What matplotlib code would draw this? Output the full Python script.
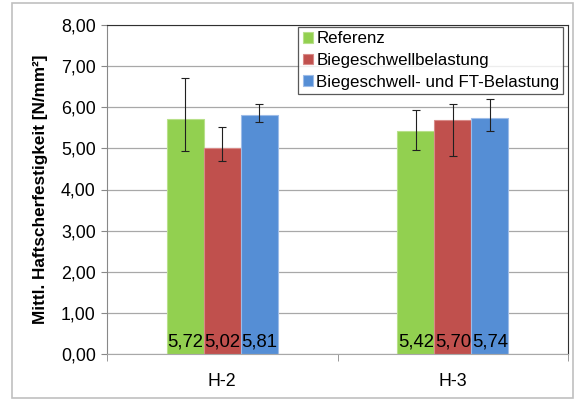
import numpy as np
import matplotlib
matplotlib.use("Agg")
import matplotlib.pyplot as plt
from matplotlib.patches import Rectangle
from matplotlib.ticker import FixedLocator, FuncFormatter

plt.rcParams["font.family"] = ["Liberation Sans", "DejaVu Sans"]

# Daten
categories = ["H-2", "H-3"]
series = ["Referenz", "Biegeschwellbelastung", "Biegeschwell- und FT-Belastung"]
means = [
    [5.72, 5.42],
    [5.02, 5.70],
    [5.81, 5.74],
]
err_max = [
    [6.72, 5.93],
    [5.53, 6.09],
    [6.09, 6.21],
]
err_min = [
    [4.94, 4.96],
    [4.70, 4.81],
    [5.64, 5.42],
]
labels = [
    ["5,72", "5,42"],
    ["5,02", "5,70"],
    ["5,81", "5,74"],
]
colors = ["#92D050", "#C0504D", "#558ED5"]
edges = ["#B8E08A", "#D88A88", "#9DBCE8"]

fig = plt.figure(figsize=(5.75, 4), dpi=100)
fig.patches.append(Rectangle((0.02, 0.006), 0.976, 0.986, transform=fig.transFigure,
                             fill=False, edgecolor="#C0C0C0", linewidth=1.2))
ax = fig.add_axes([0.186, 0.115, 0.802, 0.8225])

x = np.arange(len(categories))
w = 0.16
for i in range(len(series)):
    pos = x + (i - 1) * w
    m = np.array(means[i])
    lo = m - np.array(err_min[i])
    hi = np.array(err_max[i]) - m
    ax.bar(pos, m, w, color=colors[i], edgecolor=edges[i], linewidth=0.8,
           label=series[i], zorder=2)
    ax.errorbar(pos, m, yerr=[lo, hi], fmt="none", ecolor="#202020",
                elinewidth=0.8, capsize=3, capthick=0.8, zorder=3)
    for p, t in zip(pos, labels[i]):
        ax.text(p, 0.08, t, ha="center", va="bottom", fontsize=13.3,
                color="black", zorder=4)

ax.set_xlim(-0.5, 1.5)
ax.set_ylim(0, 8)
ax.set_yticks(np.arange(0, 9, 1))
ax.yaxis.set_major_formatter(FuncFormatter(lambda v, _: f"{v:.2f}".replace(".", ",")))
ax.set_xticks(x)
ax.set_xticklabels(categories)
ax.xaxis.set_minor_locator(FixedLocator([-0.5, 0.5, 1.5]))
ax.tick_params(axis="x", which="major", length=0, pad=14, labelsize=12.8)
ax.tick_params(axis="x", which="minor", length=5, color="#888888", direction="out")
ax.tick_params(axis="y", length=4, color="#888888", labelsize=12.8, pad=4)

ax.grid(axis="y", color="#A8A8A8", linewidth=0.9, zorder=0)
ax.set_axisbelow(True)
ax.spines["left"].set_color("#888888")
ax.spines["bottom"].set_color("#A8A8A8")
ax.spines["top"].set_color("#303030")
ax.spines["right"].set_color("#303030")

ax.set_ylabel("Mittl. Haftscherfestigkeit [N/mm²]", fontsize=12.3,
              fontweight="bold", labelpad=9)

leg = ax.legend(loc="upper right", bbox_to_anchor=(0.99, 0.994), fontsize=12.2,
                frameon=True, fancybox=False, handlelength=0.6, handleheight=0.6,
                handletextpad=0.2, borderpad=0.25, labelspacing=0.4,
                borderaxespad=0)
leg.get_frame().set_edgecolor("#303030")
leg.get_frame().set_linewidth(0.9)

fig.savefig("out.png", dpi=100)
